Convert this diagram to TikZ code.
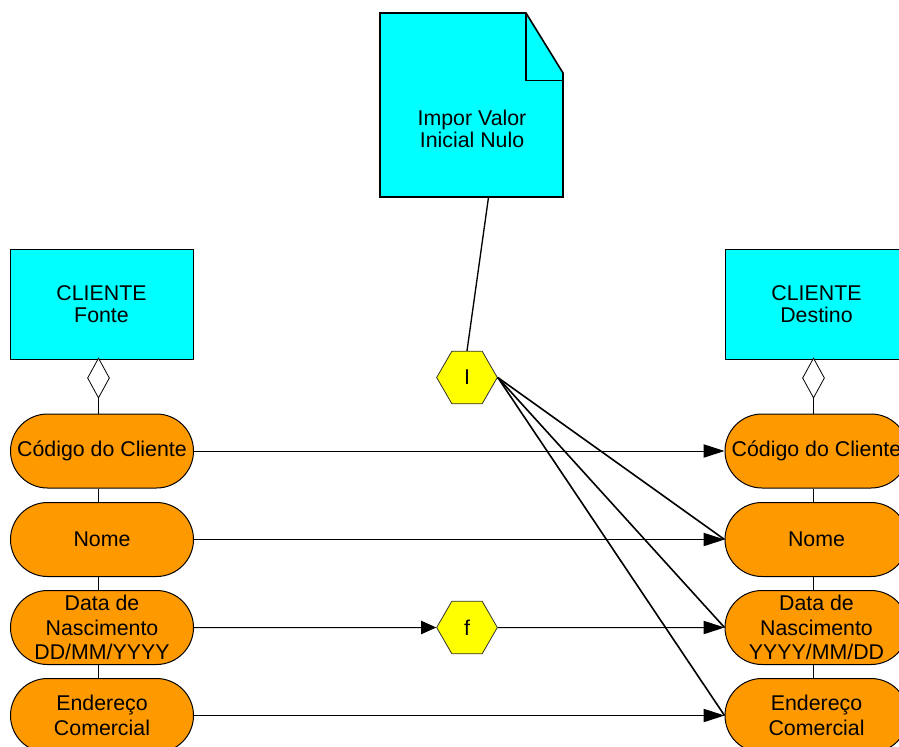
\documentclass[tikz,border=0pt]{standalone}
\usepackage{fontspec}
\setmainfont{Liberation Sans}
\usetikzlibrary{shapes.geometric,arrows.meta,calc}
\definecolor{boxcyan}{RGB}{0,255,255}
\definecolor{pillorange}{RGB}{255,153,0}
\definecolor{hexyellow}{RGB}{255,255,0}

\begin{document}
\begin{tikzpicture}[x=0.75pt,y=-0.75pt,
  every node/.style={font=\fontsize{16pt}{16.8pt}\selectfont, align=center},
  entity/.style={draw, line width=0.75pt, fill=boxcyan, minimum width=137.25pt,
    minimum height=82.5pt, inner sep=0pt},
  attr/.style={draw, line width=0.75pt, fill=pillorange, rounded corners=27.75pt,
    minimum width=137.25pt, minimum height=55.5pt, inner sep=0pt,
    font=\fontsize{16pt}{18.4pt}\selectfont},
  op/.style={draw=black!80, line width=0.6pt, fill=hexyellow, regular polygon,
    regular polygon sides=6, minimum size=45.5pt, inner sep=0pt},
  agg/.style={draw, line width=0.6pt, fill=white, diamond, minimum width=16.5pt,
    minimum height=30pt, inner sep=0pt},
  link/.style={line width=0.75pt},
  flow/.style={line width=0.75pt, -{Triangle[length=15.75pt,width=10pt]}},
  flowshort/.style={line width=0.75pt, -{Triangle[length=11.25pt,width=10pt]}},
  rule/.style={line width=1.2pt},
  notebox/.style={line width=1.2pt, fill=boxcyan}
]
\useasboundingbox (0,0) rectangle (899,746);
\clip (0,0) rectangle (899,746);

% rule note with folded corner
\draw[notebox] (380,13) -- (526,13) -- (563,73) -- (563,197) -- (380,197) -- cycle;
\draw[line width=1.2pt] (526,13) -- (526,80.5) -- (563,80.5);
\node[minimum width=137.25pt, minimum height=138pt, inner sep=0pt] (note) at (471.5,105) {};
\node (notetext) at (472,129) {Impor Valor\\Inicial Nulo};

% entities
\node[entity] (srcE) at (101.5,304) {CLIENTE\\Fonte};
\node[entity] (dstE) at (816.5,304) {CLIENTE\\Destino};

% aggregation diamonds
\node[agg] (srcD) at (98.5,378) {};
\node[agg] (dstD) at (813.5,378) {};

% source attributes
\node[attr] (sCod) at (102,451) {Código do Cliente};
\node[attr] (sNom) at (102,539.5) {Nome};
\node[attr] (sDat) at (102,627.5) {Data de\\Nascimento\\DD/MM/YYYY};
\node[attr] (sEnd) at (102,715.5) {Endereço\\Comercial};

% target attributes
\node[attr] (tCod) at (816.5,451) {Código do Cliente};
\node[attr] (tNom) at (816.5,539.5) {Nome};
\node[attr] (tDat) at (816.5,627.5) {Data de\\Nascimento\\YYYY/MM/DD};
\node[attr] (tEnd) at (816.5,715.5) {Endereço\\Comercial};

% operators
\node[op] (opI) at (467,377.5) {I};
\node[op] (opF) at (467,627.5) {f};

% composition lines
\draw[link] (srcD.south) -- (srcD.south |- sCod.north);
\draw[link] (sCod.south -| srcD.south) -- (sNom.north -| srcD.south);
\draw[link] (sNom.south -| srcD.south) -- (sDat.north -| srcD.south);
\draw[link] (sDat.south -| srcD.south) -- (sEnd.north -| srcD.south);
\draw[link] (dstD.south) -- (dstD.south |- tCod.north);
\draw[link] (tCod.south -| dstD.south) -- (tNom.north -| dstD.south);
\draw[link] (tNom.south -| dstD.south) -- (tDat.north -| dstD.south);
\draw[link] (tDat.south -| dstD.south) -- (tEnd.north -| dstD.south);

% mappings
\draw[flow] (sCod.east) -- (tCod.west);
\draw[flow] (sNom.east) -- (tNom.west);
\draw[flowshort] (sDat.east) -- (opF.west);
\draw[flow] (opF.east) -- (tDat.west);
\draw[flow] (sEnd.east) -- (tEnd.west);

% rule application
\draw[line width=1pt] ([xshift=12.75pt]note.south) -- (opI.north);
\draw[rule] (opI.east) -- (tNom.west);
\draw[rule] (opI.east) -- (tDat.west);
\draw[rule] (opI.east) -- (tEnd.west);
\end{tikzpicture}
\end{document}
